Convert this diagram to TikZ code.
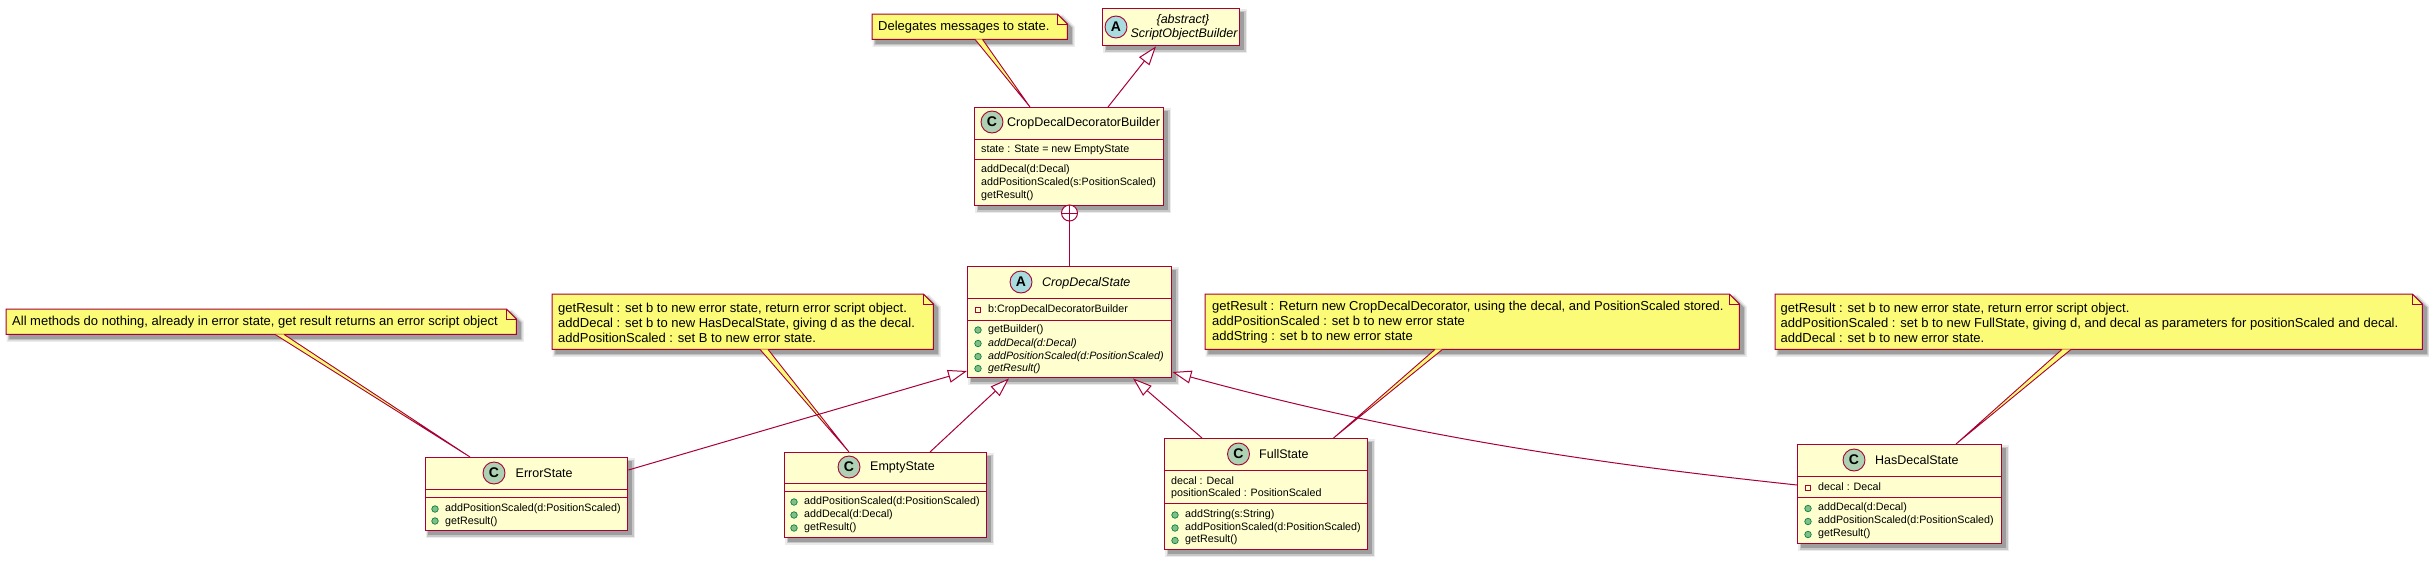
\documentclass[tikz,border=0pt]{standalone}
\usepackage{fontspec}
\setmainfont{Liberation Sans}
\usetikzlibrary{arrows.meta,calc}
\definecolor{umlred}{HTML}{A80036}
\definecolor{classfill}{HTML}{FEFECE}
\definecolor{notefill}{HTML}{FBFB77}
\definecolor{spotc}{HTML}{ADD1B2}
\definecolor{spota}{HTML}{A9DCDF}
\definecolor{pubfill}{HTML}{84BE84}
\definecolor{publine}{HTML}{038048}
\tikzset{
  shadowed/.style={
    preaction={draw=black!8,line width=7pt,transform canvas={xshift=4pt,yshift=-4pt}},
    preaction={draw=black!22,line width=4pt,transform canvas={xshift=4pt,yshift=-4pt}},
    preaction={draw=black!38,fill=black!38,line width=1.5pt,transform canvas={xshift=4pt,yshift=-4pt}}},
  classbox/.style={rectangle,draw=umlred,fill=classfill,line width=1.4pt,inner sep=0pt,anchor=north west,shadowed},
  noteshape/.style={rectangle,draw=none,inner sep=0pt,anchor=north west},
  noteoutline/.style={draw=umlred,fill=notefill,line width=1pt,line join=miter},
  sepline/.style={draw=umlred,line width=1pt},
  spotnode/.style={circle,draw=umlred,line width=.9pt,minimum size=22pt,inner sep=0pt,font=\fontsize{14}{14}\selectfont\bfseries},
  cname/.style={anchor=west,inner sep=0pt,text height=9.5pt,text depth=2.5pt,font=\fontsize{12.5}{13}\selectfont},
  mem/.style={anchor=west,inner sep=0pt,text height=8.5pt,text depth=2.5pt,font=\fontsize{10.7}{12}\selectfont},
  memi/.style={mem,font=\fontsize{10.7}{12}\selectfont\itshape},
  notetext/.style={anchor=west,inner sep=0pt,align=left,font=\fontsize{13}{15}\selectfont},
  pub/.style={circle,draw=publine,fill=pubfill,line width=.7pt,minimum size=6.5pt,inner sep=0pt},
  priv/.style={rectangle,draw=umlred,line width=.8pt,minimum size=5.5pt,inner sep=0pt},
  rel/.style={draw=umlred,line width=1pt},
  inherit/.style={rel,-{Triangle[open,fill=white,length=19pt,width=13pt]}},
  notelink/.style={draw=umlred,line width=.9pt},
}
\newcommand{\sepat}[2]{\draw[sepline] ([yshift=-#2pt]#1.north west) -- ([yshift=-#2pt]#1.north east);}
\newcommand{\notebox}[6]{%
  \node[noteshape,minimum width=#4pt,minimum height=#5pt] (#1) at (#2,#3) {};
  \path[noteoutline,shadowed] (#1.north west) -- ([xshift=-10pt]#1.north east) -- ([yshift=-10pt]#1.north east) -- (#1.south east) -- (#1.south west) -- cycle;
  \draw[noteoutline,fill=none] ([xshift=-10pt]#1.north east) -- ([xshift=-10pt,yshift=-10pt]#1.north east) -- ([yshift=-10pt]#1.north east);
  #6}
\newcommand{\notelink}[4]{%
  \fill[notefill] ([xshift=#2pt]#1.south west) -- #4 -- ([xshift=#3pt]#1.south west) -- cycle;
  \draw[notelink] ([xshift=#2pt]#1.south west) -- #4 -- ([xshift=#3pt]#1.south west);}
\begin{document}
\begin{tikzpicture}[x=1pt,y=-1pt]
\useasboundingbox (0,0) rectangle (2429,560);

\node[classbox,minimum width=137pt,minimum height=37pt] (sob) at (1102,8) {};
\node[spotnode,fill=spota] (sobspot) at (1116,27) {A};
\node[anchor=center,inner sep=0pt,font=\fontsize{12.5}{13}\selectfont\itshape] (sobabs) at (1183,20) {\{abstract\}};
\node[anchor=center,inner sep=0pt,font=\fontsize{12.5}{13}\selectfont\itshape] (sobname) at (1184,34) {ScriptObjectBuilder};

\node[classbox,minimum width=189pt,minimum height=98pt] (cdb) at (974,107) {};
\sepat{cdb}{32}\sepat{cdb}{52}
\node[spotnode,fill=spotc] (cdbspot) at (992,122) {C};
\node[cname] (cdbname) at (1007,122.5) {CropDecalDecoratorBuilder};
\node[mem] (cdba) at (981,149) {state : State = new EmptyState};
\node[mem] (cdbm1) at (981,169.5) {addDecal(d:Decal)};
\node[mem] (cdbm2) at (981,182.5) {addPositionScaled(s:PositionScaled)};
\node[mem] (cdbm3) at (981,195.5) {getResult()};

\node[classbox,minimum width=204pt,minimum height=111pt] (cds) at (967,266) {};
\sepat{cds}{32}\sepat{cds}{54}
\node[spotnode,fill=spota] (cdsspot) at (1021,282) {A};
\node[cname,font=\fontsize{12.5}{13}\selectfont\itshape] (cdsname) at (1042,282.5) {CropDecalState};
\node[priv] (cdsp) at (978,310) {};
\node[mem] (cdsa) at (988,309.5) {b:CropDecalDecoratorBuilder};
\node[pub] (cdsc1) at (978,330) {};
\node[pub] (cdsc2) at (978,343.5) {};
\node[pub] (cdsc3) at (978,356.5) {};
\node[pub] (cdsc4) at (978,368.5) {};
\node[mem] (cdsm1) at (988,329.5) {getBuilder()};
\node[memi] (cdsm2) at (988,343) {addDecal(d:Decal)};
\node[memi] (cdsm3) at (988,356) {addPositionScaled(d:PositionScaled)};
\node[memi] (cdsm4) at (988,368) {getResult()};

\node[classbox,minimum width=202.5pt,minimum height=73pt] (err) at (424.5,457) {};
\sepat{err}{32}\sepat{err}{40}
\node[spotnode,fill=spotc] (errspot) at (494,473) {C};
\node[cname] (errname) at (515.5,473.5) {ErrorState};
\node[pub] (errc1) at (435,509) {};
\node[pub] (errc2) at (435,521) {};
\node[mem] (errm1) at (445,508.5) {addPositionScaled(d:PositionScaled)};
\node[mem] (errm2) at (445,521) {getResult()};

\node[classbox,minimum width=202pt,minimum height=84.5pt] (emp) at (784,452) {};
\sepat{emp}{31.5}\sepat{emp}{39.5}
\node[spotnode,fill=spotc] (empspot) at (849,467) {C};
\node[cname] (empname) at (870,467) {EmptyState};
\node[pub] (empc1) at (794,502) {};
\node[pub] (empc2) at (794,515) {};
\node[pub] (empc3) at (794,528) {};
\node[mem] (empm1) at (804,501.5) {addPositionScaled(d:PositionScaled)};
\node[mem] (empm2) at (804,514.5) {addDecal(d:Decal)};
\node[mem] (empm3) at (804,527.5) {getResult()};

\node[classbox,minimum width=203pt,minimum height=111pt] (ful) at (1164,438) {};
\sepat{ful}{32.5}\sepat{ful}{65}
\node[spotnode,fill=spotc] (fulspot) at (1238.5,454) {C};
\node[cname] (fulname) at (1259,454.5) {FullState};
\node[mem] (fula1) at (1171,481) {decal : Decal};
\node[mem] (fula2) at (1171,493.5) {positionScaled : PositionScaled};
\node[pub] (fulc1) at (1175,515) {};
\node[pub] (fulc2) at (1175,528) {};
\node[pub] (fulc3) at (1175,540.5) {};
\node[mem] (fulm1) at (1185,514.5) {addString(s:String)};
\node[mem] (fulm2) at (1185,527.5) {addPositionScaled(d:PositionScaled)};
\node[mem] (fulm3) at (1185,539.5) {getResult()};

\node[classbox,minimum width=204pt,minimum height=99pt] (has) at (1797,444) {};
\sepat{has}{32}\sepat{has}{53}
\node[spotnode,fill=spotc] (hasspot) at (1854,460) {C};
\node[cname] (hasname) at (1875,460.5) {HasDecalState};
\node[priv] (hasp) at (1808,488) {};
\node[mem] (hasa) at (1818,487.5) {decal : Decal};
\node[pub] (hasc1) at (1808,508.5) {};
\node[pub] (hasc2) at (1808,521.5) {};
\node[pub] (hasc3) at (1808,534.5) {};
\node[mem] (hasm1) at (1818,507.5) {addDecal(d:Decal)};
\node[mem] (hasm2) at (1818,520.5) {addPositionScaled(d:PositionScaled)};
\node[mem] (hasm3) at (1818,533.5) {getResult()};

\notebox{ndel}{872}{14}{195}{25}{\node[notetext] (ndelt) at (878,27.5) {Delegates messages to state.};}
\notebox{nerr}{6}{309}{510}{25}{\node[notetext] (nerrt) at (12,322.5) {All methods do nothing, already in error state, get result returns an error script object};}
\notebox{nemp}{552}{294}{381}{55}{\node[notetext] (nempt) at (558,322.5) {getResult : set b to new error state, return error script object.\\addDecal : set b to new HasDecalState, giving d as the decal.\\addPositionScaled : set B to new error state.};}
\notebox{nful}{1205}{294}{534}{55}{\node[notetext] (nfult) at (1212,322.5) {getResult : Return new CropDecalDecorator, using the decal, and PositionScaled stored.\\addPositionScaled : set b to new error state\\addString : set b to new error state};}
\notebox{nhas}{1775}{294}{647}{55}{\node[notetext] (nhast) at (1780.5,322.5) {getResult : set b to new error state, return error script object.\\addPositionScaled : set b to new FullState, giving d, and decal as parameters for positionScaled and decal.\\addDecal : set b to new error state.};}

\notelink{ndel}{103}{110.5}{([xshift=56pt]cdb.north west)}
\notelink{nerr}{269}{278}{([xshift=45.5pt]err.north west)}
\notelink{nemp}{208}{216}{([xshift=65pt]emp.north west)}
\notelink{nful}{230}{237.5}{([xshift=169.5pt]ful.north west)}
\notelink{nhas}{287}{296}{([xshift=159pt]has.north west)}

\draw[inherit] ([xshift=134pt]cdb.north west) -- ([xshift=54pt]sob.south west);
\node[circle,draw=umlred,fill=white,line width=1pt,minimum size=16pt,inner sep=0pt] (plus) at (1069.5,213) {};
\draw[rel] (plus.north) -- (plus.south);
\draw[rel] (plus.west) -- (plus.east);
\draw[rel] (plus.south) -- ([xshift=102.5pt]cds.north west);
\draw[inherit] ([yshift=-13pt]err.north east) -- ([yshift=-105pt]cds.north west);
\draw[inherit] ([xshift=146pt]emp.north west) -- ([xshift=42pt]cds.south west);
\draw[inherit] ([xshift=38pt]ful.north west) -- ([xshift=166pt]cds.south west);
\draw[inherit] ([yshift=-41pt]has.north west) .. controls (1620,466) and (1420,440) .. ([yshift=-106pt]cds.north east);
\end{tikzpicture}
\end{document}
